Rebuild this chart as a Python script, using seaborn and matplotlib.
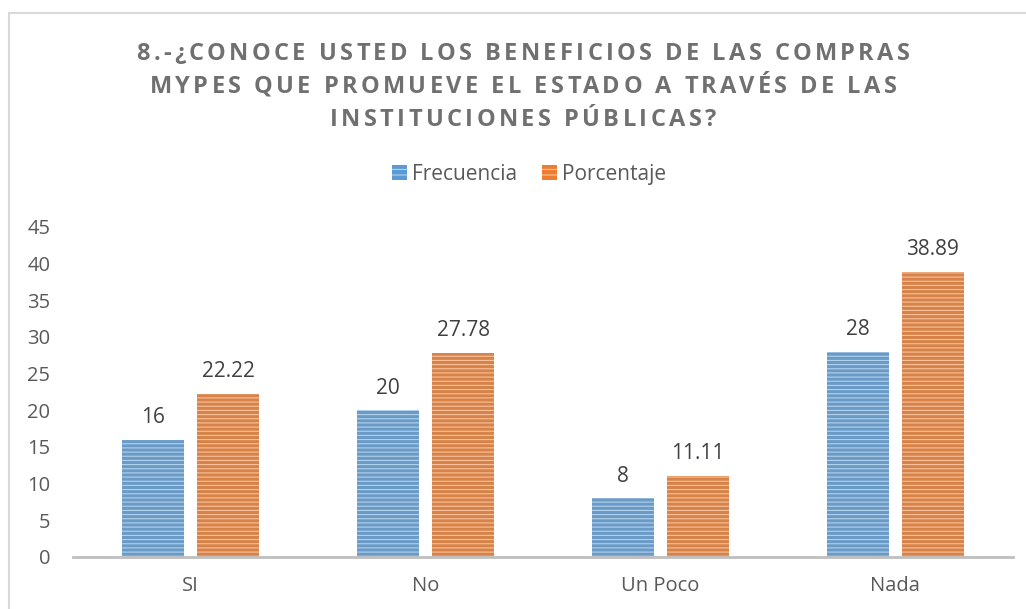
import pandas as pd
import seaborn as sns
import matplotlib.pyplot as plt
from matplotlib.patches import Rectangle
from matplotlib.font_manager import FontProperties

categorias = ["SI", "No", "Un Poco", "Nada"]
frecuencia = [16, 20, 8, 28]
porcentaje = [22.22, 27.78, 11.11, 38.89]
series = ["Frecuencia", "Porcentaje"]

titulo = ["8.-¿CONOCE USTED LOS BENEFICIOS DE LAS COMPRAS",
          "MYPES QUE PROMUEVE EL ESTADO A TRAVÉS DE LAS",
          "INSTITUCIONES PÚBLICAS?"]

df = pd.DataFrame({
    "categoria": categorias * 2,
    "serie": [series[0]] * 4 + [series[1]] * 4,
    "valor": frecuencia + porcentaje,
})

sns.set_style("white")
plt.rcParams["font.family"] = ["Open Sans", "DejaVu Sans"]
plt.rcParams["hatch.linewidth"] = 0.8

colores = {"Frecuencia": "#5B9BD5", "Porcentaje": "#ED7D31"}
claros = {"Frecuencia": "#B4D2EE", "Porcentaje": "#F8C29C"}

fig = plt.figure(figsize=(10.26, 6.09), dpi=100)
ax = fig.add_axes([0.0712, 0.0854, 0.916, 0.5419])

sns.barplot(data=df, x="categoria", y="valor", hue="serie", palette=colores,
            width=0.64, gap=0.17, ax=ax, legend=False)

for cont, s in zip(ax.containers, series):
    for bar in cont:
        bar.set_hatch("----")
        bar.set_edgecolor(claros[s])
        bar.set_linewidth(0)
    ax.bar_label(cont, fmt="%g", padding=8.5, fontsize=15, color="#404040")

ax.set_ylim(0, 45)
ax.set_yticks(range(0, 46, 5))
ax.set_xlabel("")
ax.set_ylabel("")
ax.tick_params(axis="both", length=0, labelsize=14.5, labelcolor="#595959")
ax.tick_params(axis="y", pad=16.5)
ax.tick_params(axis="x", pad=14)
for lado in ["top", "right", "left"]:
    ax.spines[lado].set_visible(False)
ax.spines["bottom"].set_color("#BFBFBF")
ax.spines["bottom"].set_linewidth(2)

# title with letter spacing (one text per glyph)
prop = FontProperties(family=["Open Sans", "DejaVu Sans"], weight="bold", size=17)
rend = fig.canvas.get_renderer()
W, H = fig.bbox.width, fig.bbox.height
tracking = 3.4
baselines = [60, 93, 126]
for linea, yb in zip(titulo, baselines):
    total = rend.get_text_width_height_descent(linea, prop, ismath=False)[0]
    total += tracking * (len(linea) - 1)
    x0 = 523 - total / 2
    for i, c in enumerate(linea):
        if c == " ":
            continue
        w_pre = rend.get_text_width_height_descent(linea[:i + 1], prop, ismath=False)[0]
        w_c = rend.get_text_width_height_descent(c, prop, ismath=False)[0]
        x = x0 + w_pre - w_c + tracking * i
        fig.text(x / W, 1 - yb / H, c, ha="left", va="baseline", fontproperties=prop,
                 color="#707070")

handles = [Rectangle((0, 0), 1, 1, facecolor=colores[s], edgecolor=claros[s],
                     hatch="---", linewidth=0) for s in series]
fig.legend(handles, series, loc="center", bbox_to_anchor=(0.516, 0.714), ncol=2,
           frameon=False, fontsize=15, handlelength=0.7, handleheight=0.7,
           handletextpad=0.25, columnspacing=1.2, labelcolor="#595959")

fig.patches.append(Rectangle((0.0088, -0.05), 1.2, 1.0287, transform=fig.transFigure,
                             fill=False, edgecolor="#D9D9D9", linewidth=1.5))

fig.savefig("out.png", dpi=100)
